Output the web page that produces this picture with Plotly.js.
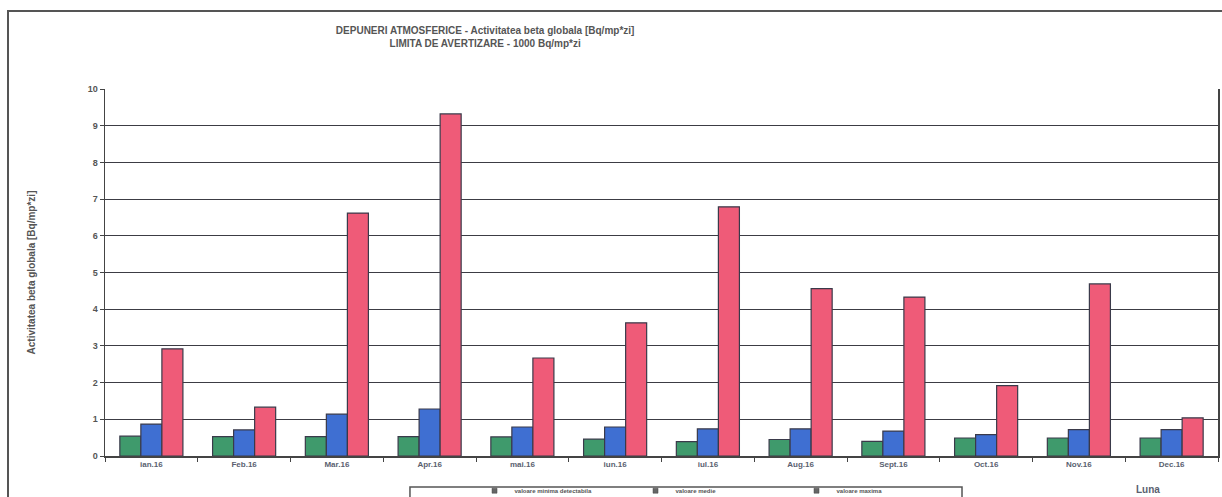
<!DOCTYPE html>
<html>
<head>
<meta charset="utf-8">
<script src="https://cdn.plot.ly/plotly-3.0.1.min.js"></script>
<style>
  html, body { margin: 0; padding: 0; background: #fff; }
  #wrap { position: relative; width: 1222px; height: 497px; overflow: hidden; }
  #chart { width: 1222px; height: 497px; }
  #frame { position: absolute; left: 7px; top: 10px; width: 1230px; height: 500px;
           border: 2px solid #555; box-sizing: border-box; pointer-events: none; }
</style>
</head>
<body>
<div id="wrap">
  <div id="chart"></div>
  <div id="frame"></div>
</div>
<script>
const months = ["ian.16", "Feb.16", "Mar.16", "Apr.16", "mai.16", "iun.16",
                "iul.16", "Aug.16", "Sept.16", "Oct.16", "Nov.16", "Dec.16"];
const minDetect = [0.54, 0.53, 0.53, 0.53, 0.52, 0.46, 0.39, 0.45, 0.40, 0.49, 0.49, 0.49];
const medie     = [0.87, 0.71, 1.14, 1.28, 0.79, 0.79, 0.74, 0.74, 0.68, 0.58, 0.72, 0.72];
const maxima    = [2.92, 1.33, 6.62, 9.32, 2.67, 3.63, 6.79, 4.56, 4.33, 1.92, 4.69, 1.04];
const seriesNames = ["valoare minima detectabila", "valoare medie", "valoare maxima"];
const yTicks = [0, 1, 2, 3, 4, 5, 6, 7, 8, 9, 10];

const colors = ["#3f9a6c", "#3f6fd2", "#ef5b78"];
const outline = {color: "#3a3a4a", width: 1.2};

const barTraces = [minDetect, medie, maxima].map((vals, i) => ({
  type: "bar",
  name: seriesNames[i],
  x: months,
  y: vals,
  marker: {color: colors[i], line: outline},
  showlegend: false,
  legendgroup: "g" + i
}));

// legend-only entries with small square symbols (no data drawn)
const legendTraces = seriesNames.map((nm, i) => ({
  type: "scatter",
  mode: "markers",
  name: nm,
  x: [null], y: [null],
  marker: {symbol: "square", size: 5, color: "#666", line: {color: "#444", width: 0.5}},
  legendgroup: "g" + i
}));

const layout = {
  width: 1222, height: 497,
  margin: {l: 105, r: 4, t: 89, b: 41, autoexpand: false},
  paper_bgcolor: "#fff", plot_bgcolor: "#fff",
  barmode: "group",
  bargap: 0.32,
  bargroupgap: 0,
  font: {family: "Liberation Sans, Arial, sans-serif", color: "#555"},
  title: {
    text: "<b>DEPUNERI ATMOSFERICE - Activitatea beta globala [Bq/mp*zi]</b><br><b>LIMITA DE AVERTIZARE - 1000 Bq/mp*zi</b>",
    font: {size: 10, color: "#555", family: "Liberation Sans, Arial, sans-serif"},
    x: 0.397, xanchor: "center", y: 0.932, yanchor: "top"
  },
  xaxis: {
    type: "category",
    tickson: "boundaries",
    ticks: "outside", ticklen: 4, tickcolor: "#444",
    showline: true, linecolor: "#444", linewidth: 1.5,
    tickfont: {size: 8, color: "#5a5f70", family: "Liberation Sans, Arial, sans-serif", weight: "bold"},
    showgrid: false,
    automargin: false,
    fixedrange: true
  },
  yaxis: {
    range: [0, 10],
    tickvals: yTicks,
    ticks: "outside", ticklen: 4, tickcolor: "#444",
    showline: true, linecolor: "#444", linewidth: 1.5, mirror: true,
    showgrid: true, gridcolor: "#3c3c44", gridwidth: 1,
    zeroline: false,
    automargin: false,
    tickfont: {size: 9, color: "#555", family: "Liberation Sans, Arial, sans-serif", weight: "bold"},
    title: {text: "<b>Activitatea beta globala [Bq/mp*zi]</b>", font: {size: 10, color: "#555"}, standoff: 50},
    fixedrange: true
  },
  legend: {
    orientation: "h",
    x: 0.332, xanchor: "left",
    y: -0.055, yanchor: "top",
    font: {size: 6, color: "#555", weight: "bold"},
    entrywidth: 116,
    itemwidth: 30,
    tracegroupgap: 0,
    bgcolor: "rgba(0,0,0,0)",
    traceorder: "normal"
  },
  annotations: [{
    text: "<b>Luna</b>", xref: "paper", yref: "paper",
    x: 0.937, y: -0.072, xanchor: "center", yanchor: "top",
    showarrow: false, font: {size: 10, color: "#5a5f70"}
  }],
  shapes: [{
    type: "rect", xref: "paper", yref: "paper",
    x0: 0.274, x1: 0.77, y0: -0.25, y1: -0.0845,
    line: {color: "#555", width: 1.5}, fillcolor: "rgba(0,0,0,0)"
  }],
  showlegend: true
};

Plotly.newPlot("chart", barTraces.concat(legendTraces), layout, {displayModeBar: false, staticPlot: true});
</script>
</body>
</html>
